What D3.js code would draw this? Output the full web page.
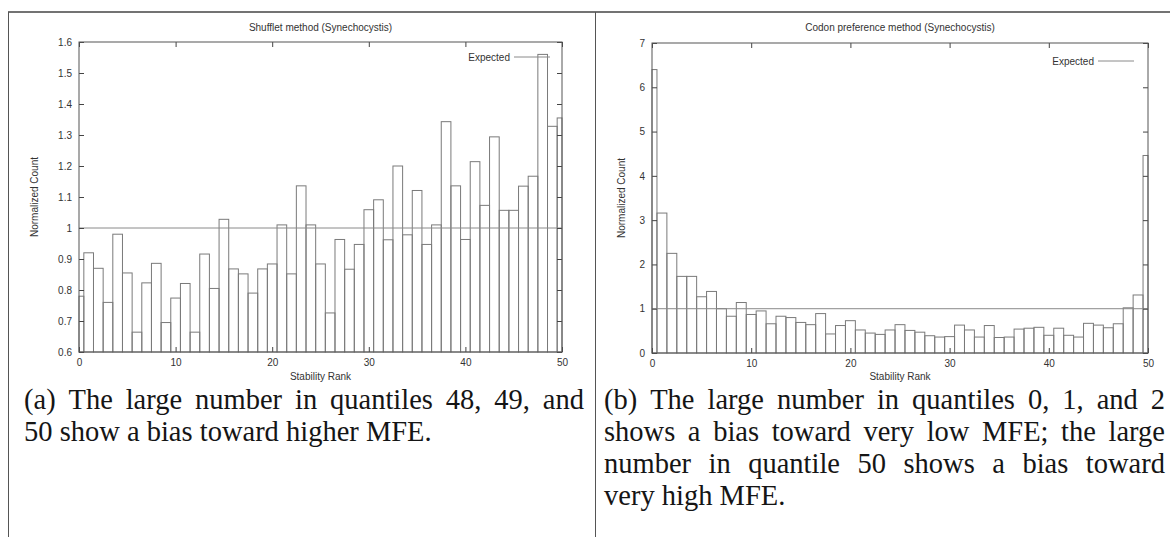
<!DOCTYPE html>
<html>
<head>
<meta charset="utf-8">
<script src="https://cdn.jsdelivr.net/npm/d3@7"></script>
<style>
  body { margin: 0; background: #fff; }
  svg { display: block; }
  .tick text { font-family: "Liberation Sans", Arial, sans-serif; font-size: 10px; fill: #333; }
  .tick line { stroke: #444; }
  .lbl { font-family: "Liberation Sans", Arial, sans-serif; font-size: 10px; fill: #333; }
  .cap { font-family: "Liberation Serif", "Times New Roman", serif; font-size: 28.5px; fill: #151515; }
</style>
</head>
<body>
<svg id="fig" width="1170" height="537"></svg>
<script>
// normalized counts per stability rank (rank = array index, 0..50)
var shuffletCounts = [
  0.78, 0.92, 0.87, 0.76, 0.98, 0.855, 0.664, 0.823, 0.886, 0.695,
  0.774, 0.821, 0.664, 0.916, 0.805, 1.028, 0.868, 0.852, 0.79, 0.868,
  0.884, 1.01, 0.852, 1.136, 1.01, 0.884, 0.726, 0.963, 0.867, 0.947,
  1.059, 1.091, 0.962, 1.2, 0.978, 1.121, 0.947, 1.01, 1.343, 1.136,
  0.963, 1.214, 1.073, 1.294, 1.057, 1.057, 1.135, 1.167, 1.56, 1.328,
  1.355
];
var codonCounts = [
  6.4, 3.16, 2.25, 1.73, 1.73, 1.27, 1.39, 1.0, 0.83, 1.14,
  0.87, 0.95, 0.66, 0.83, 0.8, 0.69, 0.64, 0.89, 0.43, 0.62,
  0.73, 0.52, 0.45, 0.42, 0.52, 0.64, 0.51, 0.47, 0.39, 0.36,
  0.37, 0.63, 0.52, 0.36, 0.62, 0.35, 0.36, 0.54, 0.56, 0.58,
  0.4, 0.56, 0.4, 0.36, 0.67, 0.63, 0.57, 0.66, 1.02, 1.31,
  4.46
];
var expectedCount = 1;
var rankTicks = [0, 10, 20, 30, 40, 50];
var shuffletTicks = [0.6, 0.7, 0.8, 0.9, 1, 1.1, 1.2, 1.3, 1.4, 1.5, 1.6];
var codonTicks = [0, 1, 2, 3, 4, 5, 6, 7];
var captionA = [
  "(a) The large number in quantiles 48, 49, and",
  "50 show a bias toward higher MFE."
];
var captionB = [
  "(b) The large number in quantiles 0, 1, and 2",
  "shows a bias toward very low MFE; the large",
  "number in quantile 50 shows a bias toward",
  "very high MFE."
];

var svg = d3.select("#fig");

// page borders
svg.append("line").attr("x1", 8).attr("x2", 1170).attr("y1", 12).attr("y2", 12)
  .attr("stroke", "#444").attr("stroke-width", 1.5);
svg.append("line").attr("x1", 8.5).attr("x2", 8.5).attr("y1", 12).attr("y2", 537)
  .attr("stroke", "#555");
svg.append("line").attr("x1", 595.5).attr("x2", 595.5).attr("y1", 12).attr("y2", 537)
  .attr("stroke", "#555");

function drawPanel(opt) {
  var x = d3.scaleLinear().domain([0, 50]).range([opt.left, opt.right]);
  var y = d3.scaleLinear().domain(opt.yDomain).range([opt.bottom, opt.top]);
  var g = svg.append("g");
  var fmt = d3.format("~g");

  // bars, one unit wide centred on each rank, clipped to the axis range
  g.selectAll("rect.bar")
    .data(opt.values)
    .enter()
    .append("rect")
    .attr("class", "bar")
    .attr("x", function(d, i) { return x(Math.max(0, i - 0.5)); })
    .attr("width", function(d, i) { return x(Math.min(50, i + 0.5)) - x(Math.max(0, i - 0.5)); })
    .attr("y", function(d) { return y(d); })
    .attr("height", function(d) { return y(opt.yDomain[0]) - y(d); })
    .attr("fill", "none")
    .attr("stroke", "#7a7a7a")
    .attr("stroke-width", 1);

  // expected level
  g.append("line")
    .attr("x1", x(0)).attr("x2", x(50))
    .attr("y1", y(expectedCount)).attr("y2", y(expectedCount))
    .attr("stroke", "#8a8a8a").attr("stroke-width", 1);

  // axes, gnuplot style: ticks inside, mirrored top/right
  var bottom = g.append("g").attr("transform", "translate(0," + opt.bottom + ")")
    .call(d3.axisBottom(x).tickValues(rankTicks).tickSizeInner(-5).tickSizeOuter(0).tickPadding(7));
  var top = g.append("g").attr("transform", "translate(0," + opt.top + ")")
    .call(d3.axisTop(x).tickValues(rankTicks).tickSizeInner(-5).tickSizeOuter(0).tickFormat(""));
  var left = g.append("g").attr("transform", "translate(" + opt.left + ",0)")
    .call(d3.axisLeft(y).tickValues(opt.yTicks).tickSizeInner(-5).tickSizeOuter(0).tickPadding(7).tickFormat(fmt));
  var right = g.append("g").attr("transform", "translate(" + opt.right + ",0)")
    .call(d3.axisRight(y).tickValues(opt.yTicks).tickSizeInner(-5).tickSizeOuter(0).tickFormat(""));
  [bottom, top, left, right].forEach(function(a) { a.select(".domain").remove(); });

  g.append("rect")
    .attr("x", opt.left).attr("y", opt.top)
    .attr("width", opt.right - opt.left).attr("height", opt.bottom - opt.top)
    .attr("fill", "none").attr("stroke", "#555").attr("stroke-width", 1);

  // titles
  var cx = (opt.left + opt.right) / 2;
  g.append("text").attr("class", "lbl").attr("x", cx).attr("y", 31)
    .attr("text-anchor", "middle").text(opt.title);
  g.append("text").attr("class", "lbl").attr("x", cx).attr("y", 380)
    .attr("text-anchor", "middle").text("Stability Rank");
  g.append("text").attr("class", "lbl")
    .attr("transform", "translate(" + opt.yLabelX + "," + ((opt.top + opt.bottom) / 2) + ") rotate(-90)")
    .attr("text-anchor", "middle").text("Normalized Count");

  // legend
  g.append("text").attr("class", "lbl").attr("x", opt.legendX).attr("y", opt.legendY)
    .attr("dy", "0.35em").attr("text-anchor", "end").text("Expected");
  g.append("line")
    .attr("x1", opt.legendX + 4).attr("x2", opt.legendX + 40)
    .attr("y1", opt.legendY).attr("y2", opt.legendY)
    .attr("stroke", "#8a8a8a").attr("stroke-width", 1);
}

// justified caption: every line but the last spreads its words to the full width
function caption(lines, x0, x1, y0, lh) {
  lines.forEach(function(line, li) {
    var yy = y0 + li * lh;
    if (li === lines.length - 1) {
      svg.append("text").attr("class", "cap").attr("x", x0).attr("y", yy).text(line);
      return;
    }
    var words = line.split(" ");
    var nodes = words.map(function(w) {
      return svg.append("text").attr("class", "cap").attr("y", yy).text(w);
    });
    var widths = nodes.map(function(n) { return n.node().getComputedTextLength(); });
    var gap = (x1 - x0 - d3.sum(widths)) / (words.length - 1);
    var pos = x0;
    nodes.forEach(function(n, i) {
      n.attr("x", pos);
      pos += widths[i] + gap;
    });
  });
}

drawPanel({
  values: shuffletCounts, yDomain: [0.6, 1.6], yTicks: shuffletTicks,
  left: 79, right: 562, top: 42, bottom: 352,
  title: "Shufflet method (Synechocystis)", yLabelX: 38,
  legendX: 510, legendY: 57
});
drawPanel({
  values: codonCounts, yDomain: [0, 7], yTicks: codonTicks,
  left: 652, right: 1148, top: 43, bottom: 353,
  title: "Codon preference method (Synechocystis)", yLabelX: 625,
  legendX: 1094, legendY: 61
});

caption(captionA, 24, 584, 409, 32);
caption(captionB, 604, 1165, 409, 32);
</script>
</body>
</html>
